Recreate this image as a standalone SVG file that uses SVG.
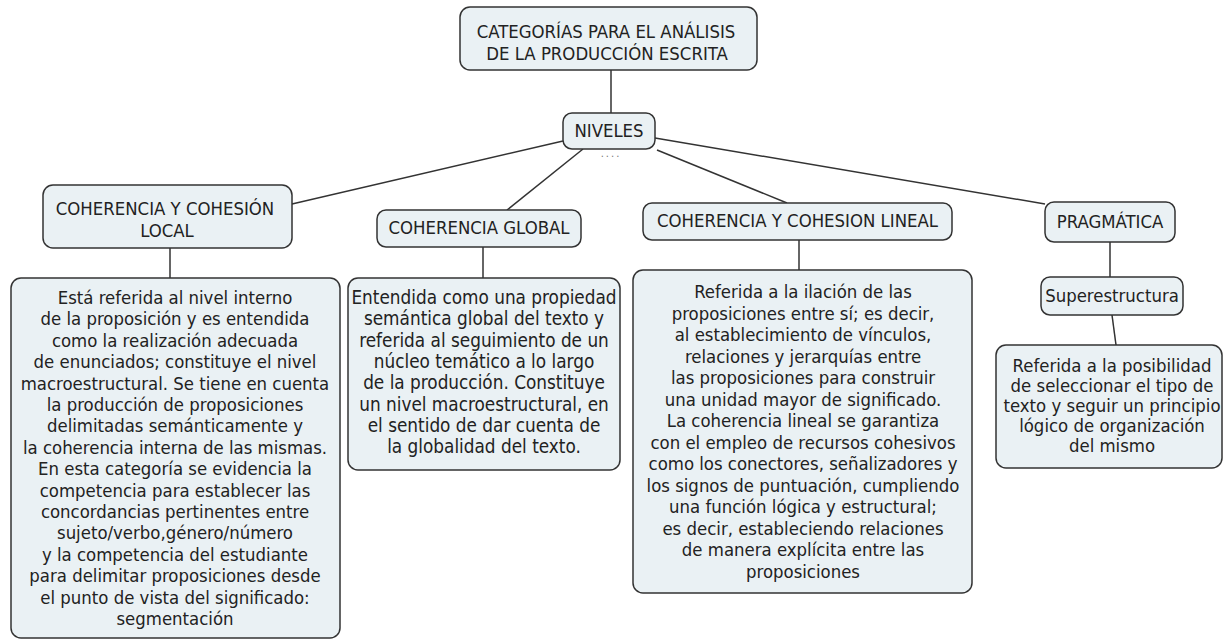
<svg xmlns="http://www.w3.org/2000/svg" width="1225" height="640" viewBox="0 0 1225 640">
<style>
.bg{fill:#ffffff}
.box{fill:#eaf1f4;stroke:#333333;stroke-width:1.5}
.t{font-family:"DejaVu Sans Condensed","DejaVu Sans","Liberation Sans",sans-serif;font-size:18.4px;fill:#222222;text-anchor:middle}
.g{font-size:18.8px}
.ln{stroke:#333333;stroke-width:1.5;fill:none}
.dots{font-family:"DejaVu Sans",sans-serif;font-size:10px;fill:#777777;text-anchor:middle;letter-spacing:2px}
</style>
<rect class="bg" x="0" y="0" width="1225" height="640"/>
<g id="connectors">
<line class="ln" x1="611" y1="70" x2="611" y2="113"/>
<line class="ln" x1="563" y1="141" x2="292" y2="204"/>
<line class="ln" x1="583" y1="149" x2="507" y2="210"/>
<line class="ln" x1="657" y1="150" x2="787" y2="203"/>
<line class="ln" x1="655" y1="138" x2="1045" y2="204"/>
<line class="ln" x1="170" y1="248" x2="170" y2="278"/>
<line class="ln" x1="483" y1="247" x2="483" y2="278"/>
<line class="ln" x1="799" y1="240" x2="799" y2="270"/>
<line class="ln" x1="1110" y1="242" x2="1110" y2="277"/>
<line class="ln" x1="1112" y1="315" x2="1116" y2="345"/>
</g>
<g id="title">
<rect class="box" x="460" y="7" width="297" height="63" rx="10"/>
<text class="t" x="606" y="38">CATEGORÍAS PARA EL ANÁLISIS</text>
<text class="t" x="607" y="60">DE LA PRODUCCIÓN ESCRITA</text>
</g>
<g id="niveles">
<rect class="box" x="563" y="113" width="92" height="36" rx="9"/>
<text class="t" x="609" y="137">NIVELES</text>
<text class="dots" x="611" y="157">....</text>
</g>
<g id="local">
<rect class="box" x="43" y="185" width="249" height="63" rx="10"/>
<text class="t" x="165" y="215">COHERENCIA Y COHESIÓN</text>
<text class="t" x="167" y="237">LOCAL</text>
</g>
<g id="local-body">
<rect class="box" x="11" y="278" width="329" height="360" rx="10"/>
<text class="t" x="175" y="304">Está referida al nivel interno</text>
<text class="t" x="175" y="325.4">de la proposición y es entendida</text>
<text class="t" x="175" y="346.8">como la realización adecuada</text>
<text class="t" x="175" y="368.2">de enunciados; constituye el nivel</text>
<text class="t" x="175" y="389.6">macroestructural. Se tiene en cuenta</text>
<text class="t" x="175" y="411">la producción de proposiciones</text>
<text class="t" x="175" y="432.4">delimitadas semánticamente y</text>
<text class="t" x="175" y="453.8">la coherencia interna de las mismas.</text>
<text class="t" x="175" y="475.2">En esta categoría se evidencia la</text>
<text class="t" x="175" y="496.6">competencia para establecer las</text>
<text class="t" x="175" y="518">concordancias pertinentes entre</text>
<text class="t" x="175" y="539.4">sujeto/verbo,género/número</text>
<text class="t" x="175" y="560.8">y la competencia del estudiante</text>
<text class="t" x="175" y="582.2">para delimitar proposiciones desde</text>
<text class="t" x="175" y="603.6">el punto de vista del significado:</text>
<text class="t" x="175" y="625">segmentación</text>
</g>
<g id="global">
<rect class="box" x="377" y="210" width="204" height="37" rx="9"/>
<text class="t" x="479" y="234">COHERENCIA GLOBAL</text>
</g>
<g id="global-body">
<rect class="box" x="348" y="278" width="272" height="192" rx="10"/>
<text class="t g" x="484" y="304">Entendida como una propiedad</text>
<text class="t g" x="484" y="325.3">semántica global del texto y</text>
<text class="t g" x="484" y="346.6">referida al seguimiento de un</text>
<text class="t g" x="484" y="367.9">núcleo temático a lo largo</text>
<text class="t g" x="484" y="389.2">de la producción. Constituye</text>
<text class="t g" x="484" y="410.5">un nivel macroestructural, en</text>
<text class="t g" x="484" y="431.8">el sentido de dar cuenta de</text>
<text class="t g" x="484" y="453.1">la globalidad del texto.</text>
</g>
<g id="lineal">
<rect class="box" x="643" y="203" width="309" height="37" rx="9"/>
<text class="t" x="797.5" y="227">COHERENCIA Y COHESION LINEAL</text>
</g>
<g id="lineal-body">
<rect class="box" x="633" y="270" width="339" height="323" rx="10"/>
<text class="t" x="803" y="298">Referida a la ilación de las</text>
<text class="t" x="803" y="319.5">proposiciones entre sí; es decir,</text>
<text class="t" x="803" y="341">al establecimiento de vínculos,</text>
<text class="t" x="803" y="362.5">relaciones y jerarquías entre</text>
<text class="t" x="803" y="384">las proposiciones para construir</text>
<text class="t" x="803" y="405.5">una unidad mayor de significado.</text>
<text class="t" x="803" y="427">La coherencia lineal se garantiza</text>
<text class="t" x="803" y="448.5">con el empleo de recursos cohesivos</text>
<text class="t" x="803" y="470">como los conectores, señalizadores y</text>
<text class="t" x="803" y="491.5">los signos de puntuación, cumpliendo</text>
<text class="t" x="803" y="513">una función lógica y estructural;</text>
<text class="t" x="803" y="534.5">es decir, estableciendo relaciones</text>
<text class="t" x="803" y="556">de manera explícita entre las</text>
<text class="t" x="803" y="577.5">proposiciones</text>
</g>
<g id="pragmatica">
<rect class="box" x="1045" y="202" width="130" height="40" rx="9"/>
<text class="t" x="1110" y="228">PRAGMÁTICA</text>
</g>
<g id="superestructura">
<rect class="box" x="1041" y="277" width="142" height="38" rx="9"/>
<text class="t" x="1112" y="302">Superestructura</text>
</g>
<g id="pragmatica-body">
<rect class="box" x="996" y="345" width="226" height="123" rx="10"/>
<text class="t" x="1112" y="372">Referida a la posibilidad</text>
<text class="t" x="1112" y="392">de seleccionar el tipo de</text>
<text class="t" x="1112" y="412">texto y seguir un principio</text>
<text class="t" x="1112" y="432">lógico de organización</text>
<text class="t" x="1112" y="452">del mismo</text>
</g>
</svg>
